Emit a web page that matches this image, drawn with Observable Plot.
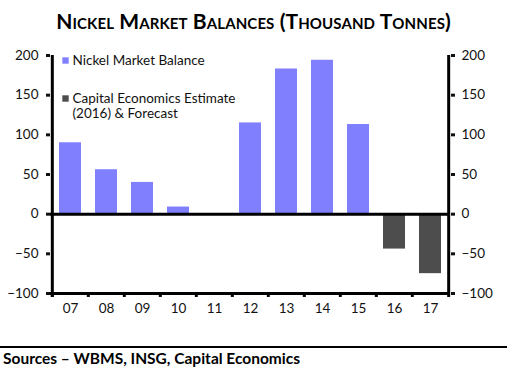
<!DOCTYPE html>
<html><head><meta charset="utf-8">
<script src="https://cdn.jsdelivr.net/npm/d3@7"></script>
<script src="https://cdn.jsdelivr.net/npm/@observablehq/plot@0.6"></script>
<style>
html,body{margin:0;padding:0;background:#fff;}
body{width:507px;height:374px;overflow:hidden;font-family:Lato,"Open Sans",sans-serif;}
#title{height:40px;line-height:42px;text-align:center;font-weight:bold;font-variant:small-caps;font-size:21px;color:#000;letter-spacing:0.1px;}
#chart svg{display:block;}
#cap{border-top:2.5px solid #000;padding-left:3px;font-weight:bold;font-size:15.5px;line-height:21px;color:#000;}
</style></head>
<body>
<div id="title">Nickel Market Balances (Thousand Tonnes)</div>
<div id="chart"></div>
<div id="cap">Sources – WBMS, INSG, Capital Economics</div>
<script>
const years = ["07","08","09","10","11","12","13","14","15","16","17"];
const values = [90, 56, 40, 9, 0, 115, 183, 194, 113, -44, -75];
const seriesNames = ["Nickel Market Balance", "Capital Economics Estimate (2016) & Forecast"];
const seriesOf = ["Nickel Market Balance","Nickel Market Balance","Nickel Market Balance","Nickel Market Balance","Nickel Market Balance","Nickel Market Balance","Nickel Market Balance","Nickel Market Balance","Nickel Market Balance","Capital Economics Estimate (2016) & Forecast","Capital Economics Estimate (2016) & Forecast"];
const seriesColors = ["#8080FF", "#4D4D4D"];
const yTicks = [-100, -50, 0, 50, 100, 150, 200];

const data = years.map((y, i) => ({year: y, value: values[i], series: seriesOf[i]}));

const W = 507, H = 306, ml = 50, mr = 57, mt = 15, mb = 53;
const half = (W - ml - mr) / years.length / 2;

const chart = Plot.plot({
  width: W, height: H,
  marginLeft: ml, marginRight: mr, marginTop: mt, marginBottom: mb,
  style: {fontFamily: "Lato, 'Open Sans', sans-serif", fontSize: "13.5px", color: "#111", background: "#fff"},
  x: {domain: years, paddingInner: 0.4, paddingOuter: 0.2, label: null},
  y: {domain: [-100, 200], label: null},
  color: {domain: seriesNames, range: seriesColors},
  marks: [
    Plot.barY(data, {x: "year", y: "value", fill: "series"}),
    Plot.ruleY([0], {stroke: "#000", strokeWidth: 3}),
    Plot.ruleY([-100], {stroke: "#000", strokeWidth: 3}),
    Plot.ruleX([years[0]], {x: d => d, dx: -half, y1: -105, y2: 200, stroke: "#000", strokeWidth: 3}),
    Plot.ruleX([years[years.length - 1]], {x: d => d, dx: half, y1: -105, y2: 200, stroke: "#000", strokeWidth: 3}),
    Plot.ruleX(years, {x: d => d, dx: -half, y1: -100, y2: -105, stroke: "#000", strokeWidth: 3}),
    Plot.axisY(yTicks, {anchor: "left", tickSize: 4, tickPadding: 8, strokeWidth: 3, label: null}),
    Plot.axisY(yTicks, {anchor: "right", tickSize: 4, tickPadding: 7, strokeWidth: 3, label: null}),
    Plot.axisX({tickSize: 0, tickPadding: 10, label: null}),
    Plot.dot([seriesNames[0]], {frameAnchor: "top-left", dx: 15, dy: 5, symbol: "square", r: 3.6, fill: seriesColors[0], stroke: null}),
    Plot.text([seriesNames[0]], {frameAnchor: "top-left", dx: 22, dy: 5, text: d => d, textAnchor: "start", lineAnchor: "middle", fill: "#111"}),
    Plot.dot([seriesNames[1]], {frameAnchor: "top-left", dx: 15, dy: 43, symbol: "square", r: 3.6, fill: seriesColors[1], stroke: null}),
    Plot.text(["Capital Economics Estimate"], {frameAnchor: "top-left", dx: 22, dy: 43, text: d => d, textAnchor: "start", lineAnchor: "middle", fill: "#111"}),
    Plot.text(["(2016) & Forecast"], {frameAnchor: "top-left", dx: 22, dy: 58, text: d => d, textAnchor: "start", lineAnchor: "middle", fill: "#111"})
  ]
});
document.getElementById("chart").appendChild(chart);
</script>
</body></html>
